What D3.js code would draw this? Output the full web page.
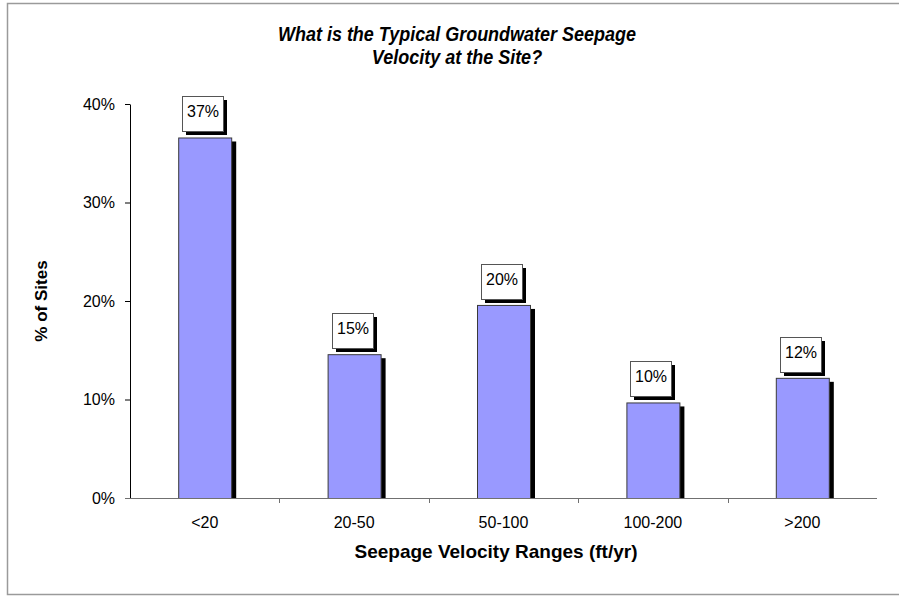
<!DOCTYPE html>
<html>
<head>
<meta charset="utf-8">
<script src="https://cdn.jsdelivr.net/npm/d3@7"></script>
<style>
  html, body { margin: 0; padding: 0; background: #fff; }
  svg { display: block; font-family: "Liberation Sans", Arial, sans-serif; }
</style>
</head>
<body>
<svg id="chart" width="899" height="596"></svg>
<script>
const categories = ["<20", "20-50", "50-100", "100-200", ">200"];
const values = [36.6, 14.6, 19.6, 9.7, 12.2];
const valueLabels = ["37%", "15%", "20%", "10%", "12%"];
const yTicks = [0, 10, 20, 30, 40];
const titleLines = ["What is the Typical Groundwater Seepage", "Velocity at the Site?"];
const xTitle = "Seepage Velocity Ranges (ft/yr)";
const yTitle = "% of Sites";

const svg = d3.select("#chart");
const FONT = "'Liberation Sans', Arial, sans-serif";
const plot = { left: 130, right: 877, top: 104, bottom: 498 };

// outer frame
svg.append("rect")
  .attr("x", 7.5).attr("y", 3.5)
  .attr("width", 900).attr("height", 591)
  .attr("fill", "#fff").attr("stroke", "#9a9a9a").attr("stroke-width", 1.5);

const x = d3.scaleBand().domain(categories).range([plot.left, plot.right]).paddingInner(0).paddingOuter(0);
const y = d3.scaleLinear().domain([0, 40]).range([plot.bottom, plot.top]);

// title
const tt = svg.append("g").attr("transform", "translate(457,0) scale(1,1.1)");
tt.selectAll("text").data(titleLines).join("text")
  .attr("x", 0).attr("y", (d, i) => (i === 0 ? 41 : 64) / 1.1)
  .attr("text-anchor", "middle")
  .style("font-size", "18px").style("font-weight", "bold").style("font-style", "italic")
  .text(d => d);

// y axis
const yAxis = d3.axisLeft(y).tickValues(yTicks).tickFormat(d => d + "%").tickSize(5).tickSizeOuter(0);
const gy = svg.append("g").attr("transform", `translate(${plot.left},0)`).call(yAxis);
gy.select(".domain").attr("stroke", "#000");
gy.selectAll(".tick line").attr("stroke", "#000");
gy.selectAll(".tick text").attr("x", -15).style("font-size", "16px").attr("fill", "#000").style("font-family", FONT);

// bars: shadow then bar
const bw = 53;
const bars = svg.append("g");
bars.selectAll("rect.shadow").data(values).join("rect")
  .attr("class", "shadow")
  .attr("x", (d, i) => x(categories[i]) + x.bandwidth() / 2 - bw / 2 + 5)
  .attr("y", d => y(d) + 4)
  .attr("width", bw)
  .attr("height", d => y(0) - y(d) - 4)
  .attr("fill", "#000");
bars.selectAll("rect.bar").data(values).join("rect")
  .attr("class", "bar")
  .attr("x", (d, i) => x(categories[i]) + x.bandwidth() / 2 - bw / 2 + 0.5)
  .attr("y", d => y(d) + 0.5)
  .attr("width", bw)
  .attr("height", d => y(0) - y(d))
  .attr("fill", "#9999ff")
  .attr("stroke", "#3a3a3a").attr("stroke-width", 1);

// x axis
const xAxis = d3.axisBottom(x).tickSize(0).tickSizeOuter(0);
const gx = svg.append("g").attr("transform", `translate(0,${plot.bottom})`).call(xAxis);
gx.select(".domain").remove();
gx.append("line").attr("x1", plot.left - 5).attr("x2", plot.right).attr("y1", 0.5).attr("y2", 0.5).attr("stroke", "#707070");
gx.selectAll(".tick text").attr("y", 30).attr("dy", 0).style("font-size", "16px").attr("fill", "#000").style("font-family", FONT);
// category separator ticks
const seps = categories.slice(1).map(c => x(c));
gx.selectAll("line.sep").data(seps).join("line")
  .attr("class", "sep")
  .attr("x1", d => Math.round(d) + 0.5).attr("x2", d => Math.round(d) + 0.5)
  .attr("y1", 0).attr("y2", 5).attr("stroke", "#707070");

// value labels
const bx = 41, bh = 35;
const lab = svg.append("g");
const lg = lab.selectAll("g").data(values).join("g")
  .attr("transform", (d, i) => `translate(${Math.round(x(categories[i]) + x.bandwidth() / 2 - 22.5)},${Math.round(y(d) - 6 - bh)})`);
lg.append("rect").attr("x", 4).attr("y", 4).attr("width", bx).attr("height", bh).attr("fill", "#000");
lg.append("rect").attr("x", 0.5).attr("y", 0.5).attr("width", bx).attr("height", bh)
  .attr("fill", "#fff").attr("stroke", "#555").attr("stroke-width", 1);
lg.append("text").attr("x", bx / 2 + 0.5).attr("y", 21)
  .attr("text-anchor", "middle").style("font-size", "16px")
  .text((d, i) => valueLabels[i]);

// axis titles
svg.append("text")
  .attr("x", 496).attr("y", 558)
  .attr("text-anchor", "middle")
  .style("font-size", "19px").style("font-weight", "bold")
  .text(xTitle);
svg.append("text")
  .attr("transform", `translate(47,${(plot.top + plot.bottom) / 2}) rotate(-90)`)
  .attr("text-anchor", "middle")
  .style("font-size", "17px").style("font-weight", "bold")
  .text(yTitle);
</script>
</body>
</html>
